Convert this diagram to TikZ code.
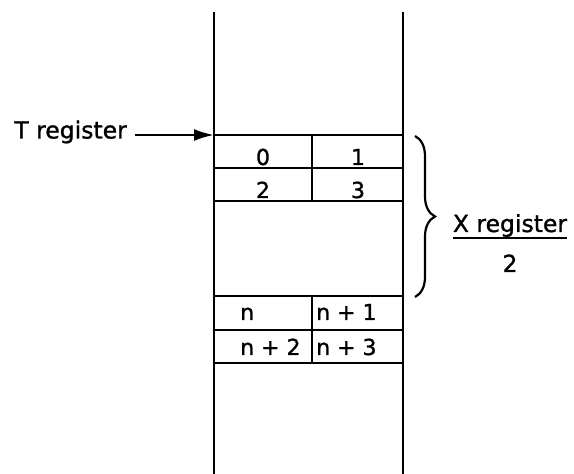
\documentclass[tikz,border=0pt]{standalone}
\usepackage{fontspec}
\setmainfont{DejaVu Sans}[FakeBold=1.2]
\usetikzlibrary{arrows.meta,decorations.pathreplacing}
\begin{document}
\begin{tikzpicture}[x=1pt,y=1pt,
  wall/.style={line width=2.6pt},
  lbl/.style={font=\fontsize{23.5}{26}\selectfont, inner sep=0pt},
  cell/.style={font=\fontsize{22}{24}\selectfont, inner sep=0pt, anchor=base},
  cellw/.style={font=\fontsize{22}{24}\selectfont, inner sep=0pt, anchor=base west}]
\useasboundingbox (0,0) rectangle (574,474);
% stack walls
\coordinate (tl) at (214,339);
\coordinate (tr) at (403,339);
\draw[wall] (214,462) -- (214,0);
\draw[wall] (403,462) -- (403,0);
% horizontal lines
\draw[wall] (tl) -- (tr);
\foreach \y in {306,273,178,144,111} {\draw[wall] (214,\y) -- (403,\y);}
% dividers
\draw[wall] (312,339) -- (312,273);
\draw[wall] (312,178) -- (312,111);
% cell labels
\node[cell] (c0) at (263,309) {0};
\node[cell] (c1) at (358,309) {1};
\node[cell] (c2) at (263,276) {2};
\node[cell] (c3) at (358,276) {3};
\node[cellw] (cn) at (240,154) {n};
\node[cellw] (cn1) at (316,154) {n + 1};
\node[cellw] (cn2) at (240,119) {n + 2};
\node[cellw] (cn3) at (316,119) {n + 3};
% T register
\node[lbl, anchor=east] (treg) at (127,342) {T register};
\coordinate (tstart) at (135,339);
\draw[line width=2.4pt, -{Latex[length=20pt,width=12pt]}] (tstart) -- (tl);
% brace
\coordinate (bt) at (415,338);
\coordinate (bb) at (415,177);
\draw[line width=2.2pt, decorate, decoration={brace, amplitude=20pt}] (bt) -- (bb);
% X register / 2
\node[lbl, anchor=base] (xreg) at (510,242) {X register};
\draw[line width=2.2pt] (xreg.west |- 0,236) coordinate (ul1) -- (xreg.east |- 0,236) coordinate (ul2);
\node[lbl, anchor=base] (two) at (510,202) {2};
\end{tikzpicture}
\end{document}
